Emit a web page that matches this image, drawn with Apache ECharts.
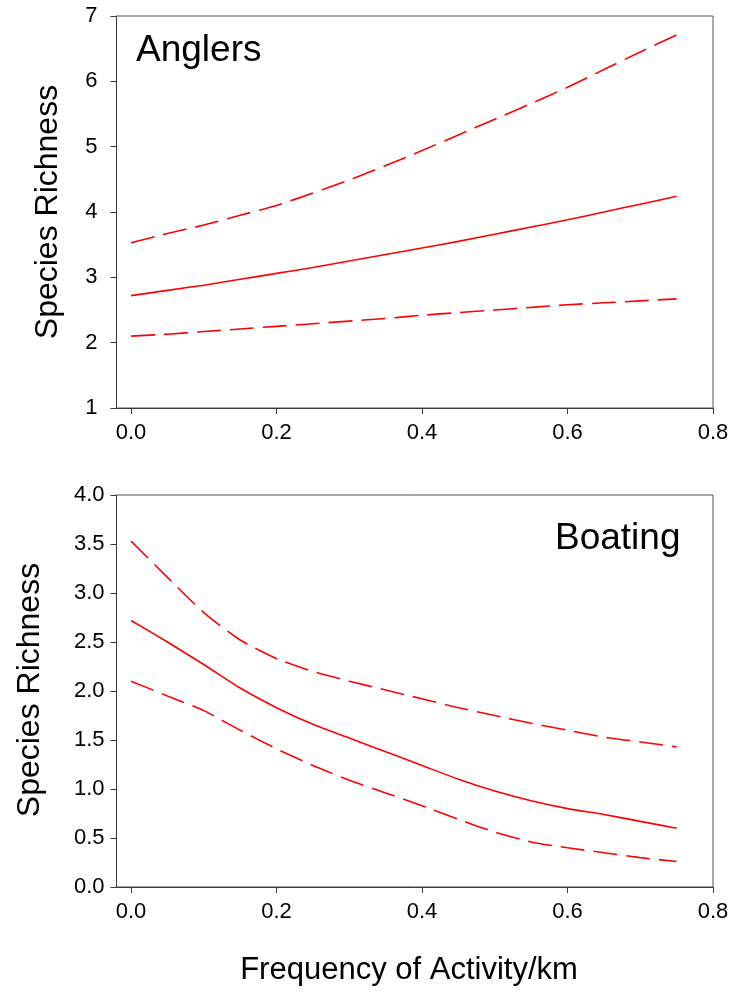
<!DOCTYPE html>
<html>
<head>
<meta charset="utf-8">
<title>Species Richness vs Frequency of Activity</title>
<script src="https://cdn.jsdelivr.net/npm/echarts@6/dist/echarts.min.js"></script>
<style>
  html, body { margin: 0; padding: 0; background: #fff; }
  #chart { width: 734px; height: 993px; }
</style>
</head>
<body>
<div id="chart"></div>
<script>
// Frequency of activity per km (x values shared by all curves)
const frequency = [0, 0.05, 0.1, 0.15, 0.2, 0.25, 0.3, 0.35, 0.4, 0.45, 0.5, 0.55, 0.6, 0.65, 0.7, 0.75];

// Anglers: fitted species richness with upper / lower bounds
const anglersFit   = [2.72, 2.80, 2.88, 2.97, 3.06, 3.15, 3.25, 3.35, 3.45, 3.55, 3.66, 3.77, 3.88, 4.00, 4.12, 4.24];
const anglersUpper = [3.53, 3.67, 3.80, 3.95, 4.10, 4.29, 4.49, 4.71, 4.94, 5.18, 5.42, 5.66, 5.91, 6.18, 6.45, 6.71];
const anglersLower = [2.10, 2.13, 2.17, 2.21, 2.25, 2.29, 2.33, 2.37, 2.42, 2.46, 2.50, 2.54, 2.58, 2.61, 2.64, 2.67];

// Boating: fitted species richness with upper / lower bounds
const boatingFit   = [2.72, 2.50, 2.27, 2.03, 1.83, 1.66, 1.52, 1.38, 1.24, 1.10, 0.98, 0.88, 0.80, 0.74, 0.67, 0.60];
const boatingUpper = [3.53, 3.16, 2.80, 2.52, 2.33, 2.20, 2.10, 2.01, 1.92, 1.83, 1.75, 1.67, 1.60, 1.53, 1.48, 1.43];
const boatingLower = [2.10, 1.95, 1.80, 1.60, 1.41, 1.24, 1.09, 0.96, 0.83, 0.69, 0.56, 0.46, 0.40, 0.35, 0.30, 0.26];

// Axis tick values
const xTicks = [0, 0.2, 0.4, 0.6, 0.8];

const pairs = ys => frequency.map((x, i) => [x, ys[i]]);

const FONT = 'Liberation Sans, Arial, sans-serif';
const RED = '#ff0000';
const AXIS = '#3a3a3a';

function xAxisFor(gridIndex) {
  return {
    type: 'value', gridIndex,
    min: -0.02, max: 0.8,
    axisLine: { show: true, onZero: false, lineStyle: { color: AXIS, width: 1 } },
    axisTick: { show: true, length: 6, inside: false, customValues: xTicks, lineStyle: { color: AXIS } },
    axisLabel: { customValues: xTicks, margin: 14, fontSize: 22, color: '#000', fontFamily: FONT,
                 formatter: v => v.toFixed(1) },
    splitLine: { show: false }
  };
}

function yAxisFor(gridIndex, min, max, interval, digits, margin) {
  return {
    type: 'value', gridIndex, min, max, interval,
    axisLine: { show: true, onZero: false, lineStyle: { color: AXIS, width: 1 } },
    axisTick: { show: true, length: 6, inside: false, lineStyle: { color: AXIS } },
    axisLabel: { margin, fontSize: 22, color: '#000', fontFamily: FONT,
                 formatter: v => v.toFixed(digits) },
    splitLine: { show: false }
  };
}

function curve(data, axisIndex, dashed) {
  return {
    type: 'line', xAxisIndex: axisIndex, yAxisIndex: axisIndex,
    data: pairs(data), showSymbol: false, smooth: 0.2, silent: true,
    lineStyle: { color: RED, width: 1.6, type: dashed ? [24, 9] : 'solid' }
  };
}

const chart = echarts.init(document.getElementById('chart'), null, { renderer: 'canvas' });

chart.setOption({
  animation: false,
  backgroundColor: '#fff',
  grid: [
    { left: 116.5, right: 21, top: 16, height: 392, show: true, borderColor: '#555', borderWidth: 1, containLabel: false },
    { left: 116.5, right: 21, top: 495, height: 392, show: true, borderColor: '#555', borderWidth: 1, containLabel: false }
  ],
  xAxis: [xAxisFor(0), xAxisFor(1)],
  yAxis: [
    yAxisFor(0, 1, 7, 1, 0, 19),
    yAxisFor(1, 0, 4, 0.5, 1, 12)
  ],
  series: [
    curve(anglersUpper, 0, true),
    curve(anglersFit, 0, false),
    curve(anglersLower, 0, true),
    curve(boatingUpper, 1, true),
    curve(boatingFit, 1, false),
    curve(boatingLower, 1, true)
  ],
  graphic: [
    { type: 'text', left: 136, top: 32,
      style: { text: 'Anglers', font: '37px ' + FONT, fill: '#000' } },
    { type: 'text', left: 555, top: 520,
      style: { text: 'Boating', font: '37px ' + FONT, fill: '#000' } },
    { type: 'text', x: 48, y: 212, rotation: Math.PI / 2,
      style: { text: 'Species Richness', font: '32px ' + FONT, fill: '#000',
               align: 'center', verticalAlign: 'middle' } },
    { type: 'text', x: 30, y: 690, rotation: Math.PI / 2,
      style: { text: 'Species Richness', font: '32px ' + FONT, fill: '#000',
               align: 'center', verticalAlign: 'middle' } },
    { type: 'text', x: 409, y: 970,
      style: { text: 'Frequency of Activity/km', font: '31px ' + FONT, fill: '#000',
               align: 'center', verticalAlign: 'middle' } }
  ]
});
</script>
</body>
</html>
